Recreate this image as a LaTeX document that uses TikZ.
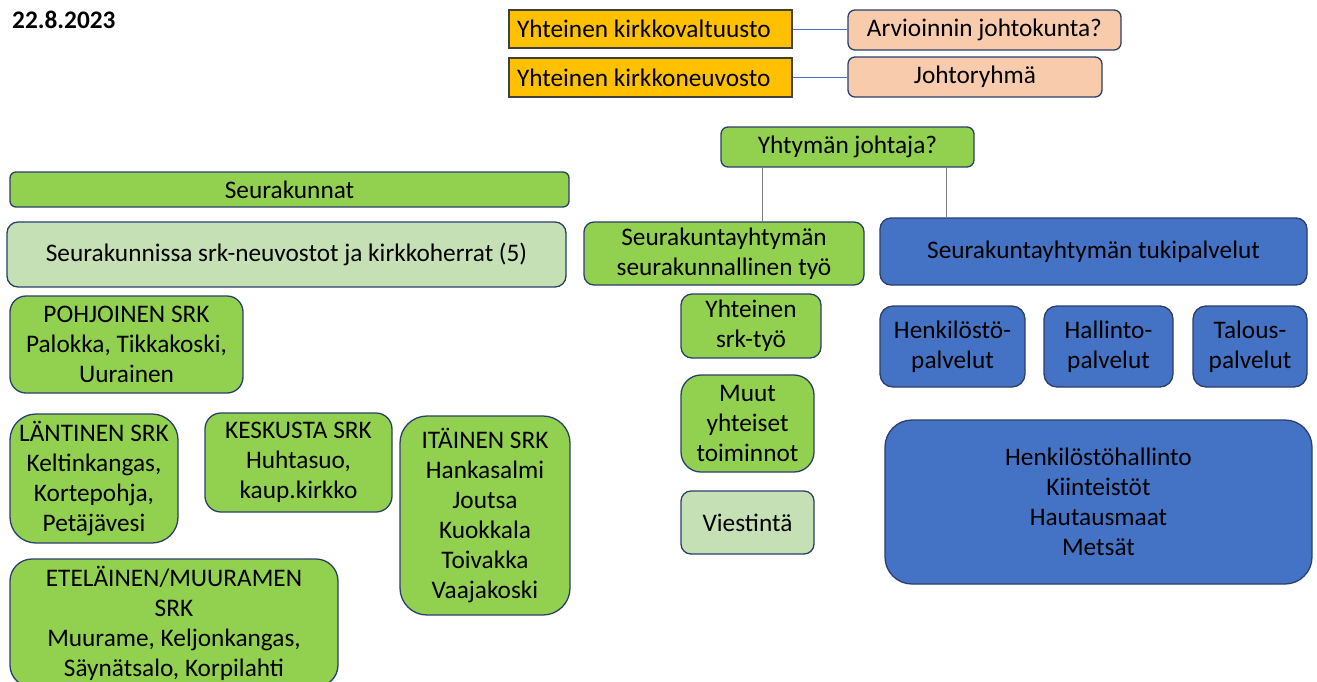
\documentclass[tikz,border=0pt]{standalone}
\usepackage{fontspec}
\setmainfont{Carlito}
\usepackage{tikz}
\usepackage{color}

\definecolor{kvorange}{HTML}{FFC000}
\definecolor{peach}{HTML}{F8CBAD}
\definecolor{srkgreen}{HTML}{92D050}
\definecolor{palegreen}{HTML}{C5E0B4}
\definecolor{tukiblue}{HTML}{4472C4}
\definecolor{rimblue}{HTML}{2B3F6B}
\definecolor{linegray}{HTML}{7F7F7F}

\begin{document}
\begin{tikzpicture}[x=1pt,y=-1pt,
  every node/.style={font=\fontsize{25.3}{30}\selectfont, align=center, inner sep=0pt},
  box/.style={draw=rimblue, line width=1.3pt, rounded corners=10pt},
  gbox/.style={box, fill=srkgreen},
  lbox/.style={box, fill=palegreen},
  bbox/.style={box, fill=tukiblue},
  pbox/.style={box, fill=peach, rounded corners=7pt},
  obox/.style={draw=black!75, line width=1.3pt, fill=kvorange, align=flush left,
    text width=267pt, inner xsep=8pt},
  link/.style={tukiblue, line width=1pt},
  stem/.style={linegray, line width=1.5pt}]
\useasboundingbox (0,0) rectangle (1317,681);

\node[anchor=base west, font=\fontsize{25.3}{30}\selectfont\bfseries] (date) at (12,28) {22.8.2023};

% hallinto ylhaalla
\node[obox, minimum height=38pt] (kv) at (650.5,29) {Yhteinen kirkkovaltuusto};
\node[obox, minimum height=39pt] (kn) at (650.5,77.5) {Yhteinen kirkkoneuvosto};
\node[pbox, minimum width=273pt, minimum height=40pt] (arv) at (984.5,30) {Arvioinnin johtokunta?};
\node[pbox, minimum width=254pt, minimum height=40pt] (jr) at (975,77) {Johtoryhmä};
\draw[link] (kv.east) -- (kv.east -| arv.west);
\draw[link] (kn.east) -- (kn.east -| jr.west);

\node[gbox, rounded corners=7pt, minimum width=253pt, minimum height=40pt] (johtaja) at (847.5,147) {Yhtymän johtaja?};

% seurakunnat
\node[gbox, rounded corners=6pt, minimum width=559pt, minimum height=35pt] (srk) at (289.5,189.5) {Seurakunnat};
\node[lbox, rounded corners=11pt, minimum width=559pt, minimum height=65pt] (srkneuv) at (286.5,254.5) {Seurakunnissa srk-neuvostot ja kirkkoherrat (5)};
\node[gbox, rounded corners=16pt, minimum width=233pt, minimum height=97pt] (pohj) at (126.5,344.5) {POHJOINEN SRK\\Palokka, Tikkakoski,\\Uurainen};
\node[gbox, rounded corners=26pt, minimum width=168pt, minimum height=129pt] (lant) at (94,478.5) {LÄNTINEN SRK\\Keltinkangas,\\Kortepohja,\\Petäjävesi};
\node[gbox, rounded corners=16pt, minimum width=187pt, minimum height=99pt] (kesk) at (298.5,462.5) {KESKUSTA SRK\\Huhtasuo,\\kaup.kirkko};
\node[gbox, rounded corners=27pt, minimum width=170pt, minimum height=199pt] (ita) at (485,515.5) {ITÄINEN SRK\\Hankasalmi\\Joutsa\\Kuokkala\\Toivakka\\Vaajakoski};
\node[gbox, rounded corners=22pt, minimum width=328pt, minimum height=128pt] (etel) at (174,623) {ETELÄINEN/MUURAMEN\\SRK\\Muurame, Keljonkangas,\\Säynätsalo, Korpilahti};

% seurakunnallinen tyo
\node[gbox, minimum width=280pt, minimum height=63pt] (srktyo) at (724,253.5) {Seurakuntayhtymän\\seurakunnallinen työ};
\node[gbox, rounded corners=11pt, minimum width=140pt, minimum height=64pt] (yhtsrk) at (751,326) {Yhteinen\\srk-työ};
\node[gbox, rounded corners=20pt, minimum width=133pt, minimum height=97pt] (muut) at (747.5,423.5) {Muut\\yhteiset\\toiminnot};
\node[lbox, minimum width=133pt, minimum height=63pt] (viest) at (747.5,522.5) {Viestintä};

% tukipalvelut
\node[bbox, rounded corners=11pt, minimum width=427pt, minimum height=67pt] (tuki) at (1093.5,251.5) {Seurakuntayhtymän tukipalvelut};
\node[bbox, rounded corners=13pt, minimum width=145pt, minimum height=81pt] (henk) at (952.5,346.5) {Henkilöstö-\\palvelut};
\node[bbox, rounded corners=13pt, minimum width=129pt, minimum height=81pt] (hall) at (1108.5,346.5) {Hallinto-\\palvelut};
\node[bbox, rounded corners=13pt, minimum width=114pt, minimum height=81pt] (tal) at (1250,346.5) {Talous-\\palvelut};
\node[bbox, rounded corners=27pt, minimum width=427pt, minimum height=164pt] (muuttuki) at (1098.5,502) {Henkilöstöhallinto\\Kiinteistöt\\Hautausmaat\\Metsät};

\draw[stem] ([xshift=42pt]johtaja.south west) -- ([xshift=42pt]johtaja.south west |- srktyo.north);
\draw[stem] ([xshift=-28pt]johtaja.south east) -- ([xshift=-28pt]johtaja.south east |- tuki.north);

\end{tikzpicture}
\end{document}
